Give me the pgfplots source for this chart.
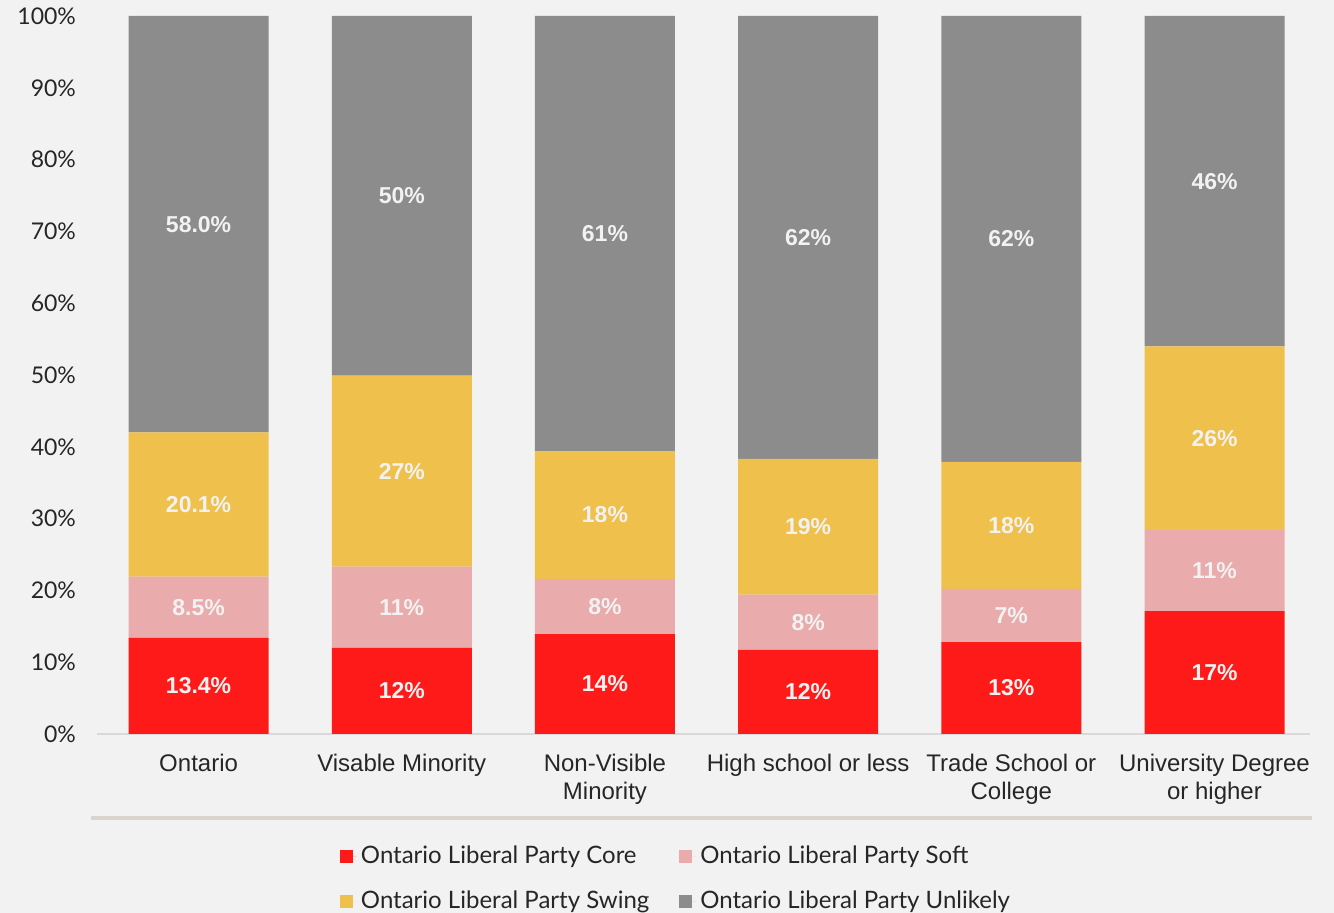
\documentclass[border=0pt]{standalone}
\usepackage{pgfplots}
\pgfplotsset{compat=1.18}
\usepackage{fontspec}
\setmainfont{Liberation Sans}
\newfontfamily\lato{Lato}
\definecolor{bg}{HTML}{F2F2F2}
\definecolor{core}{HTML}{FF1A1A}
\definecolor{soft}{HTML}{E9ABAB}
\definecolor{swing}{HTML}{EFC04B}
\definecolor{unlikely}{HTML}{8C8C8C}
\definecolor{txt}{HTML}{262626}
\definecolor{sepc}{HTML}{D9D5CC}
\definecolor{lbl}{HTML}{F2F2F2}
\begin{document}
\begin{tikzpicture}
\fill[bg] (-48.5pt,-89.5pt) rectangle (618.5pt,367pt);
\begin{axis}[
  at={(0,0)}, anchor=south west,
  scale only axis, width=606.5pt, height=359pt,
  ybar stacked, bar width=70pt,
  xmin=-0.5, xmax=5.47, ymin=0, ymax=100,
  xtick={0,1,2,3,4,5},
  xticklabels={Ontario, Visable Minority, {Non-Visible\\Minority}, High school or less, {Trade School or\\College}, {University Degree\\or higher}},
  xticklabel style={align=center, font=\fontsize{12}{14}\selectfont, text=txt, yshift=-6.5pt},
  ytick={0,10,...,100},
  yticklabel={\lato\pgfmathprintnumber[assume math mode=true]{\tick}\%},
  yticklabel style={font=\fontsize{11.5}{14}\selectfont, text=txt, xshift=-7pt},
  major tick length=0pt,
  axis x line*=bottom, axis y line*=left,
  x axis line style={draw=black!15, line width=0.75pt, -},
  y axis line style={draw=none},
  legend columns=2,
  legend cell align=left,
  legend style={at={(0.2,-0.15)}, anchor=north west, draw=none, fill=none,
    font=\lato\fontsize{12}{14}\selectfont, text=txt,
    /tikz/every even column/.append style={column sep=13pt}, row sep=8pt, inner sep=0pt},
  legend image code/.code={\fill[#1, draw=none] (0pt,-3.25pt) rectangle (6.5pt,3.25pt); \path (6.5pt,0pt) -- (8.5pt,0pt);},
]
\addplot[fill=core, draw=none] coordinates {(0,13.4) (1,12.0) (2,13.9) (3,11.7) (4,12.8) (5,17.1)};
\addlegendentry{Ontario Liberal Party Core}
\addplot[fill=soft, draw=none] coordinates {(0,8.5) (1,11.3) (2,7.7) (3,7.7) (4,7.4) (5,11.3)};
\addlegendentry{Ontario Liberal Party Soft}
\addplot[fill=swing, draw=none] coordinates {(0,20.1) (1,26.6) (2,17.8) (3,18.9) (4,17.7) (5,25.6)};
\addlegendentry{Ontario Liberal Party Swing}
\addplot[fill=unlikely, draw=none] coordinates {(0,58.0) (1,50.1) (2,60.6) (3,61.7) (4,62.1) (5,46.0)};
\addlegendentry{Ontario Liberal Party Unlikely}
\end{axis}
\begin{axis}[
  at={(0,0)}, anchor=south west,
  scale only axis, width=606.5pt, height=359pt,
  xmin=-0.5, xmax=5.47, ymin=0, ymax=100, hide axis,
]
\addplot[draw=none, mark=none, nodes near coords, point meta=explicit symbolic,
  nodes near coords align=center,
  every node near coord/.append style={font=\bfseries\fontsize{11.5}{13}\selectfont, text=lbl, anchor=center}]
 coordinates {
 (0,6.7) [13.4\%] (0,17.65) [8.5\%] (0,31.95) [20.1\%] (0,71.0) [58.0\%]
 (1,6.0) [12\%] (1,17.65) [11\%] (1,36.6) [27\%] (1,74.95) [50\%]
 (2,6.95) [14\%] (2,17.75) [8\%] (2,30.5) [18\%] (2,69.7) [61\%]
 (3,5.85) [12\%] (3,15.55) [8\%] (3,28.85) [19\%] (3,69.15) [62\%]
 (4,6.4) [13\%] (4,16.5) [7\%] (4,29.05) [18\%] (4,68.95) [62\%]
 (5,8.55) [17\%] (5,22.75) [11\%] (5,41.2) [26\%] (5,77.0) [46\%]
 };
\end{axis}
\draw[sepc, line width=2.2pt] (-3pt,-42pt) -- (607.5pt,-42pt);
\pgfresetboundingbox
\useasboundingbox (-48.5pt,-89.5pt) rectangle (618.5pt,367pt);
\end{tikzpicture}
\end{document}
